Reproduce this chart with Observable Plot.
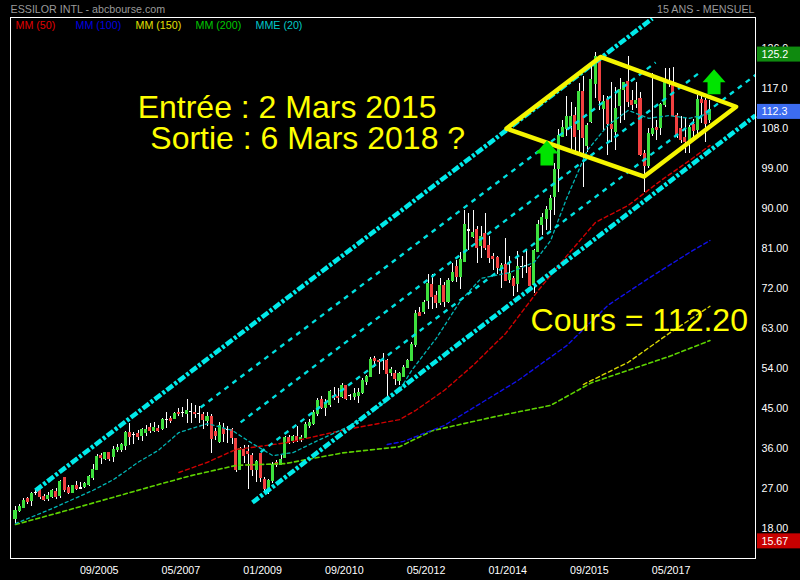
<!DOCTYPE html>
<html>
<head>
<meta charset="utf-8">
<script src="https://cdn.jsdelivr.net/npm/d3@7"></script>
<script src="https://cdn.jsdelivr.net/npm/@observablehq/plot@0.6"></script>
<style>
  html, body { margin: 0; padding: 0; background: #000; }
  #chart svg { display: block; }
</style>
</head>
<body>
<div id="chart"></div>
<script>
// Monthly candles, ESSILOR INTL, one per month from 01/2004 to 03/2018 (index 0 = 01/2004)
const firstMonth = "2004-01";
const open = [
  20.1, 21.9, 22.7, 24.6, 24.1, 26.0, 26.6, 25.0, 24.7, 25.1,
  26.2, 25.3, 29.3, 27.1, 26.0, 27.5, 27.0, 27.3, 27.7, 29.3,
  31.1, 34.3, 33.7, 35.0, 34.1, 35.6, 35.7, 36.5, 39.5, 39.0,
  39.2, 38.8, 39.6, 40.7, 39.9, 40.4, 40.4, 42.5, 42.7, 42.7,
  44.1, 43.9, 43.7, 44.2, 44.1, 43.7, 43.6, 42.2, 43.2, 39.7,
  37.4, 40.4, 40.2, 40.1, 38.2, 31.2, 35.7, 35.2, 34.4, 31.1,
  34.7, 29.0, 26.6, 28.8, 32.7, 32.4, 33.9, 38.4, 37.7, 38.6,
  38.0, 38.4, 41.0, 41.6, 43.8, 47.0, 45.2, 45.7, 47.9, 47.7,
  47.6, 50.0, 47.9, 47.7, 47.9, 48.5, 50.9, 52.1, 56.2, 55.8,
  55.7, 55.8, 53.0, 52.8, 51.3, 52.2, 54.2, 55.8, 59.4, 66.5,
  66.7, 69.2, 72.9, 70.4, 68.7, 72.5, 68.9, 73.8, 76.8, 74.6,
  78.0, 85.0, 83.7, 85.2, 81.5, 84.3, 81.5, 79.2, 78.9, 76.4,
  77.2, 74.0, 74.2, 73.1, 76.8, 77.0, 76.7, 72.7, 80.2, 86.2,
  87.7, 89.6, 92.6, 98.9, 106.1, 107.9, 108.5, 110.9, 107.6, 116.2,
  104.0, 109.4, 118.1, 123.7, 112.4, 114.5, 108.7, 107.2, 113.0, 116.6,
  118.4, 114.3, 113.6, 114.7, 102.3, 99.5, 106.8, 108.2, 108.2, 113.4,
  118.2, 118.1, 110.9, 107.9, 105.9, 105.3, 108.7, 107.6, 114.5, 114.2,
  109.9
];
const high = [
  23.0, 23.3, 24.7, 25.0, 26.2, 27.0, 26.8, 25.7, 26.1, 26.8,
  27.0, 28.8, 29.5, 27.7, 27.7, 28.6, 28.4, 28.3, 30.0, 32.4,
  34.7, 34.9, 35.1, 35.1, 36.5, 36.8, 37.2, 39.9, 41.7, 39.7,
  40.1, 40.5, 41.1, 41.6, 41.9, 41.2, 42.7, 44.2, 43.1, 44.2,
  44.9, 45.2, 47.0, 46.2, 45.7, 45.5, 44.0, 44.0, 43.7, 40.4,
  41.9, 41.6, 41.0, 40.4, 38.3, 36.3, 36.7, 36.7, 34.8, 33.3,
  34.8, 29.4, 29.0, 32.9, 33.3, 34.4, 38.7, 39.0, 38.9, 41.0,
  38.9, 41.9, 42.5, 44.6, 47.2, 47.6, 47.0, 49.1, 49.8, 49.4,
  50.6, 50.2, 48.2, 49.4, 49.4, 51.7, 52.4, 56.4, 56.6, 56.0,
  57.3, 56.0, 54.3, 53.6, 53.0, 54.7, 56.0, 59.9, 67.1, 67.8,
  69.3, 75.2, 75.2, 71.4, 74.2, 73.4, 74.2, 77.7, 78.3, 80.2,
  89.6, 88.8, 89.6, 86.0, 86.0, 88.8, 83.6, 79.8, 79.2, 77.6,
  83.2, 79.1, 74.6, 80.4, 79.2, 80.6, 77.0, 80.7, 87.3, 88.8,
  90.5, 92.9, 100.1, 107.7, 109.8, 115.2, 113.9, 112.8, 118.1, 119.6,
  109.1, 122.6, 125.2, 124.1, 115.4, 115.1, 118.4, 117.3, 119.2, 118.4,
  124.1, 116.6, 118.4, 116.2, 103.1, 107.9, 120.3, 109.8, 113.6, 121.4,
  121.4, 121.8, 111.3, 110.6, 110.2, 108.7, 110.0, 115.4, 115.1, 114.7,
  114.3
];
const low = [
  19.1, 21.7, 22.4, 23.3, 23.0, 25.4, 24.5, 24.1, 24.1, 24.8,
  24.6, 24.7, 26.2, 25.7, 25.9, 26.5, 26.9, 27.0, 27.5, 28.8,
  31.0, 32.4, 33.4, 33.1, 32.9, 35.2, 35.2, 35.6, 36.7, 36.9,
  37.9, 37.6, 38.7, 39.3, 39.5, 39.5, 40.1, 40.4, 41.6, 42.5,
  43.2, 42.9, 41.6, 41.6, 42.7, 41.6, 40.2, 41.0, 34.8, 37.8,
  37.1, 37.4, 37.2, 36.9, 30.7, 31.1, 32.6, 26.7, 29.6, 28.4,
  28.4, 26.2, 25.7, 28.1, 31.8, 32.2, 33.7, 36.8, 37.1, 37.4,
  37.4, 38.2, 40.4, 41.2, 43.1, 44.7, 43.2, 45.3, 46.8, 46.1,
  47.2, 46.8, 46.8, 46.8, 46.2, 48.2, 50.2, 51.9, 54.3, 52.7,
  53.6, 47.7, 52.1, 50.2, 50.2, 51.9, 53.9, 55.7, 58.8, 65.6,
  66.2, 67.2, 67.2, 67.4, 68.2, 67.7, 68.6, 73.4, 73.4, 71.7,
  78.0, 80.6, 83.2, 77.6, 78.7, 80.6, 77.6, 76.1, 75.2, 71.9,
  73.8, 73.1, 70.1, 71.2, 74.2, 75.3, 71.6, 70.8, 80.2, 84.0,
  85.1, 85.0, 88.4, 93.7, 106.1, 106.1, 103.1, 102.7, 102.7, 94.8,
  102.7, 109.1, 114.7, 112.1, 107.6, 101.9, 104.9, 103.1, 109.1, 109.8,
  112.8, 112.1, 112.4, 101.6, 93.7, 98.9, 106.1, 105.3, 106.4, 112.8,
  117.3, 110.6, 105.7, 104.6, 102.3, 102.3, 105.3, 106.4, 109.1, 104.9,
  109.1
];
const close = [
  21.9, 22.8, 24.3, 24.0, 25.8, 26.0, 25.1, 24.5, 25.4, 26.4,
  25.2, 28.4, 26.6, 26.0, 27.5, 27.0, 27.1, 28.0, 29.7, 31.2,
  34.1, 33.8, 35.0, 33.6, 35.6, 36.2, 36.7, 39.5, 38.7, 39.1,
  38.6, 40.1, 40.2, 39.9, 40.7, 39.9, 42.5, 42.5, 42.3, 43.8,
  43.7, 44.0, 44.4, 44.2, 43.7, 43.7, 42.5, 43.2, 38.2, 38.9,
  41.0, 39.3, 40.2, 38.4, 31.1, 35.9, 34.4, 34.7, 31.1, 32.9,
  29.4, 26.9, 28.7, 32.4, 32.2, 33.5, 38.4, 37.4, 38.6, 37.7,
  38.4, 41.4, 41.7, 44.0, 46.8, 45.2, 46.2, 48.7, 47.4, 47.3,
  50.0, 47.2, 47.9, 48.2, 48.5, 51.3, 52.1, 56.0, 55.7, 55.4,
  55.6, 52.8, 53.6, 51.7, 52.7, 54.2, 55.7, 59.4, 66.3, 65.9,
  68.7, 73.1, 70.2, 68.7, 72.5, 68.9, 73.8, 75.5, 74.6, 78.5,
  86.4, 85.1, 84.6, 81.2, 83.7, 81.2, 78.9, 78.7, 76.7, 77.0,
  73.8, 75.2, 72.5, 76.8, 76.9, 77.0, 72.5, 80.4, 86.4, 87.9,
  89.7, 92.2, 98.6, 106.4, 108.2, 110.7, 110.6, 106.2, 116.2, 105.9,
  108.5, 119.0, 124.2, 114.3, 113.9, 109.1, 107.9, 112.5, 116.6, 118.2,
  113.9, 113.2, 114.3, 102.0, 99.5, 106.8, 107.9, 107.6, 113.4, 118.2,
  118.2, 110.9, 106.4, 105.5, 104.9, 108.2, 107.4, 114.5, 113.7, 109.1,
  112.2
];

// Moving averages, sampled at month indices
const mm50Month  = [40, 47, 54, 60, 67, 80, 94, 98, 105, 112, 120, 128, 135, 142, 150, 158, 165, 170];
const mm50Value  = [30.6, 32.9, 35.8, 36.5, 37.4, 40.1, 42.5, 44.6, 49.1, 54.7, 61.9, 71.6, 79.4, 86.9, 90.7, 96.3, 100.8, 104.2];
const mm100Month = [91, 95, 105, 115, 123, 135, 145, 155, 165, 170];
const mm100Value = [36.9, 37.6, 41.2, 46.8, 51.3, 59.2, 68.2, 74.3, 80.1, 82.8];
const mm150Month = [139, 150, 160, 170];
const mm150Value = [50.4, 55.4, 61.9, 68.0];
const mm200Month = [0, 10, 20, 35, 43, 54, 66, 80, 94, 102, 118, 131, 141, 150, 160, 170];
const mm200Value = [18.9, 21.4, 24.0, 27.9, 29.9, 32.2, 32.6, 35.0, 36.4, 40.0, 43.3, 45.7, 50.8, 53.6, 56.7, 60.3];
const mme20Month = [0, 9, 19, 24, 30, 35, 40, 47, 53, 58, 63, 68, 74, 81, 87, 94, 97, 103, 109, 114, 121, 127, 131, 135, 140, 145, 150, 155, 160, 165, 170];
const mme20Value = [19.1, 22.5, 26.6, 29.0, 32.9, 35.6, 39.6, 41.6, 40.1, 37.1, 34.4, 35.1, 37.8, 40.7, 43.9, 49.1, 53.6, 60.8, 69.3, 74.3, 75.6, 77.9, 82.8, 92.5, 103.1, 108.7, 112.1, 110.3, 110.9, 110.3, 111.4];

// Trend channel drawn on the chart: [month, price] at both ends
const channelThick = [
  [[4.9, 26.55], [155.9, 132.76]],
  [[58.0, 23.85], [181.15, 110.93]]
];
const channelThin = [
  [[45.3, 45.23], [156.7, 122.86]],
  [[55.1, 41.87], [167.7, 120.75]],
  [[60.0, 35.17], [181.15, 120.05]]
];

// Diamond pattern (left, top, right, bottom)
const diamondMonth = [120.2, 143.2, 176.4, 153.9];
const diamondPrice = [108.0, 124.1, 112.9, 97.2];

// Up arrows
const arrowMonth = [130.1, 171.0];
const arrowPrice = [102.5, 118.5];

// Axis ticks
const xTickMonths = [20, 40, 60, 80, 100, 120, 140, 160];
const xTickLabels = ["09/2005", "05/2007", "01/2009", "09/2010", "05/2012", "01/2014", "09/2015", "05/2017"];
const yTicks = [18, 27, 36, 45, 54, 63, 72, 81, 90, 99, 108, 117, 126];

// Price tags on the right scale
const tagValues = [125.2, 112.3, 15.67];
const tagLabels = ["125.2", "112.3", "15.67"];
const tagColors = ["#0f8a0f", "#3c6cf0", "#c80000"];

// Legend
const legendLabels = ["MM (50)", "MM (100)", "MM (150)", "MM (200)", "MME (20)"];
const legendColors = ["#e00000", "#0000e0", "#e0e000", "#00c800", "#00c8c8"];

// Annotations
const notes = [
  {month: 29.9, price: 112.7, text: "Entrée : 2 Mars 2015"},
  {month: 33.0, price: 105.8, text: "Sortie : 6 Mars 2018 ?"},
  {month: 126.1, price: 64.8, text: "Cours = 112.20"}
];

// ---------------------------------------------------------------------------
const candles = close.map((c, i) => ({i, o: open[i], h: high[i], l: low[i], c}));
const series = (months, values) => months.map((m, k) => ({m, v: values[k]}));
const toLinks = (lines) => lines.map(([a, b]) => ({x1: a[0], y1: a[1], x2: b[0], y2: b[1]}));
const diamond = diamondMonth.map((m, k) => ({m, v: diamondPrice[k]}));
diamond.push(diamond[0]);
const arrows = arrowMonth.map((m, k) => ({m, v: arrowPrice[k]}));
const tags = tagValues.map((v, k) => ({v, label: tagLabels[k], color: tagColors[k]}));
const xLabel = new Map(xTickMonths.map((m, k) => [m, xTickLabels[k]]));

const X_DOMAIN = [-1.224, 181.15];
const Y_DOMAIN = [11.25, 132.98];
const xEnd = X_DOMAIN[1];

const up = "#3ee03e", down = "#f24040", flat = "#ffffff";
const bodyColor = (d) => Math.abs(d.c - d.o) < 0.15 ? flat : d.c > d.o ? up : down;

const arrowSymbol = {
  draw(ctx, size) {
    const s = Math.sqrt(size / Math.PI) / 12.5;
    ctx.moveTo(0, -12.5 * s);
    ctx.lineTo(11.5 * s, 0.5 * s);
    ctx.lineTo(6.5 * s, 0.5 * s);
    ctx.lineTo(6.5 * s, 12.5 * s);
    ctx.lineTo(-6.5 * s, 12.5 * s);
    ctx.lineTo(-6.5 * s, 0.5 * s);
    ctx.lineTo(-11.5 * s, 0.5 * s);
    ctx.closePath();
  }
};

const FONT = "'Liberation Sans', Arial, sans-serif";
const small = 10.7;

const chart = Plot.plot({
  width: 800,
  height: 580,
  marginLeft: 10,
  marginRight: 45,
  marginTop: 17,
  marginBottom: 22,
  style: {background: "#000", color: "#fff", fontFamily: FONT, fontSize: small + "px"},
  x: {type: "linear", domain: X_DOMAIN, axis: null},
  y: {type: "linear", domain: Y_DOMAIN, axis: null},
  marks: [
    // candles
    Plot.ruleX(candles, {x: "i", y1: (d) => Math.min(d.l, d.o, d.c), y2: (d) => Math.max(d.h, d.o, d.c), stroke: "#fff", strokeWidth: 1, shapeRendering: "crispEdges"}),
    Plot.rect(candles, {x1: (d) => d.i - 0.37, x2: (d) => d.i + 0.37, y1: "o", y2: "c", fill: bodyColor, insetTop: -0.5, insetBottom: -0.5, shapeRendering: "crispEdges"}),

    // moving averages
    Plot.line(series(mm200Month, mm200Value), {x: "m", y: "v", stroke: "#5ed400", strokeWidth: 1.6, strokeDasharray: "4,3"}),
    Plot.line(series(mm150Month, mm150Value), {x: "m", y: "v", stroke: "#d8d800", strokeWidth: 1.4, strokeDasharray: "4,3"}),
    Plot.line(series(mm100Month, mm100Value), {x: "m", y: "v", stroke: "#1010e8", strokeWidth: 1.4, strokeDasharray: "4,3"}),
    Plot.line(series(mm50Month, mm50Value), {x: "m", y: "v", stroke: "#d00000", strokeWidth: 1.4, strokeDasharray: "4,3"}),
    Plot.line(series(mme20Month, mme20Value), {x: "m", y: "v", stroke: "#00b4b4", strokeWidth: 1.3, strokeDasharray: "3,3"}),

    // trend channel
    Plot.link(toLinks(channelThin), {x1: "x1", y1: "y1", x2: "x2", y2: "y2", stroke: "#00e0e0", strokeWidth: 2.4, strokeDasharray: "5,5"}),
    Plot.link(toLinks(channelThick), {x1: "x1", y1: "y1", x2: "x2", y2: "y2", stroke: "#00eaea", strokeWidth: 4.5, strokeDasharray: "8,2,3,2"}),

    // diamond and arrows
    Plot.line(diamond, {x: "m", y: "v", stroke: "#f5f500", strokeWidth: 4.5, strokeLinejoin: "round"}),
    Plot.dot(arrows, {x: "m", y: "v", r: 12.5, symbol: arrowSymbol, fill: "#00e400", stroke: "none"}),

    // annotations
    Plot.text(notes, {x: "month", y: "price", text: "text", textAnchor: "start", lineAnchor: "middle", fill: "#ffff00", fontSize: 32, fontFamily: FONT}),

    // axes
    Plot.axisX({ticks: xTickMonths, tickFormat: (d) => xLabel.get(d), tickSize: 0, tickPadding: 8, dx: 2, fill: "#fff", fontSize: small, label: null}),
    Plot.axisY({anchor: "right", ticks: yTicks, tickFormat: (d) => d >= 100 ? d.toFixed(1) : d.toFixed(2), tickSize: 0, tickPadding: 6, textAnchor: "start", fill: "#fff", fontSize: small, label: null}),

    // price tags
    Plot.rect(tags, {x1: () => xEnd, x2: () => xEnd, y1: "v", y2: "v", insetLeft: 2, insetRight: -45, insetTop: -5, insetBottom: -10, fill: "color"}),
    Plot.text(tags, {x: () => xEnd, y: "v", text: "label", dx: 6, dy: 2.5, textAnchor: "start", lineAnchor: "middle", fill: "#fff", fontSize: small}),

    // header and legend
    Plot.text(["ESSILOR INTL - abcbourse.com"], {frameAnchor: "top-left", dy: -8, lineAnchor: "middle", textAnchor: "start", fill: "#9a9a9a", fontSize: small}),
    Plot.text(["15 ANS - MENSUEL"], {frameAnchor: "top-right", dx: -1, dy: -8, lineAnchor: "middle", textAnchor: "end", fill: "#9a9a9a", fontSize: small}),
    ...legendLabels.map((label, k) => Plot.text([label], {frameAnchor: "top-left", dx: 5 + 60 * k, dy: 8, lineAnchor: "middle", textAnchor: "start", fill: legendColors[k], fontSize: small})),

    Plot.frame({stroke: "#fff", strokeWidth: 1})
  ]
});

document.getElementById("chart").appendChild(chart);
</script>
</body>
</html>
